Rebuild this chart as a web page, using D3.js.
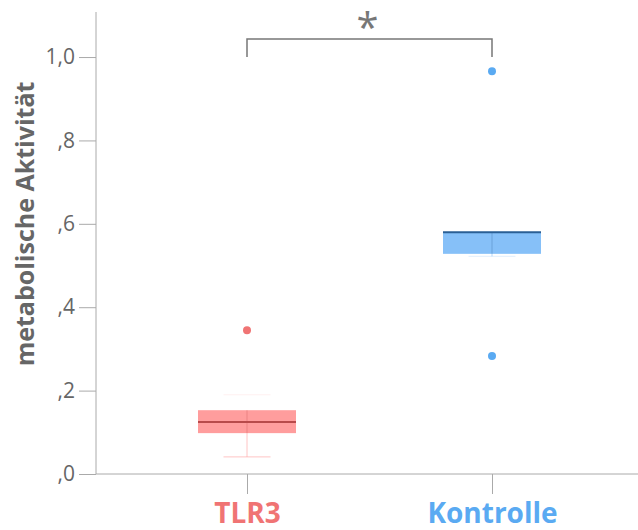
<!DOCTYPE html>
<html lang="de">
<head>
<meta charset="utf-8">
<title>metabolische Aktivität</title>
<script src="https://cdnjs.cloudflare.com/ajax/libs/d3/7.8.5/d3.min.js"></script>
<style>
	body { margin: 0; background: #fff; }
	svg text { font-family: "Open Sans", sans-serif; }
</style>
</head>
<body>
<svg id="chart" width="638" height="530"></svg>
<script>
// data
var groups = ['TLR3', 'Kontrolle'];
var groupColors = ['#f07474', '#5aaaf2'];
var boxFill = ['#ff9d9d', '#86c0f8'];
var medianColors = ['#b84a4a', '#2a5f95'];
var q1 = [0.098, 0.528];
var median = [0.125, 0.580];
var q3 = [0.153, 0.580];
var whiskerLow = [0.041, 0.522];
var whiskerHigh = [0.190, 0.580];
var outliers = [[0.345], [0.966, 0.283]];
var yTicks = [0, 0.2, 0.4, 0.6, 0.8, 1.0];
var yTickLabels = [',0', ',2', ',4', ',6', ',8', '1,0'];

var svg = d3.select('#chart');
var plotLeft = 96, plotRight = 638, plotTop = 12, plotBottom = 474;

var y = d3.scaleLinear().domain([0, 1.108]).range([plotBottom, plotTop]);
var x = d3.scalePoint().domain(groups).range([247, 492]);
var boxW = 98, capW = 47;

// y axis
var yAxis = svg.append('g').attr('transform', 'translate(' + plotLeft + ',0)')
	.call(d3.axisLeft(y).tickValues(yTicks).tickSize(17).tickPadding(4)
		.tickFormat(function(d, i) { return yTickLabels[i]; }));
yAxis.select('.domain').attr('stroke', '#aaa').attr('d', 'M0,' + plotTop + 'V' + plotBottom);
yAxis.selectAll('.tick line').attr('stroke', '#aaa');
yAxis.selectAll('.tick text').attr('fill', '#666').style('font-size', '21px');

// x axis
var xAxis = svg.append('g').attr('transform', 'translate(0,' + plotBottom + ')')
	.call(d3.axisBottom(x).tickSize(20).tickPadding(9));
xAxis.select('.domain').attr('stroke', '#aaa').attr('d', 'M' + plotLeft + ',0H' + plotRight);
xAxis.selectAll('.tick line').attr('stroke', '#aaa');
xAxis.selectAll('.tick text')
	.attr('fill', function(d, i) { return groupColors[i]; })
	.style('font-size', '28px').style('font-weight', 'bold');

// y label
svg.append('text')
	.attr('transform', 'translate(34,224) rotate(-90)')
	.attr('text-anchor', 'middle')
	.attr('fill', '#666')
	.style('font-size', '25px').style('font-weight', 'bold')
	.text('metabolische Aktivität');

// boxes
groups.forEach(function(g, i) {
	var cx = x(g);
	var gg = svg.append('g');
	gg.append('line').attr('x1', cx).attr('x2', cx)
		.attr('y1', y(whiskerLow[i])).attr('y2', y(q1[i]))
		.attr('stroke', boxFill[i]).attr('stroke-opacity', 0.6);
	gg.append('line').attr('x1', cx - capW / 2).attr('x2', cx + capW / 2)
		.attr('y1', y(whiskerLow[i])).attr('y2', y(whiskerLow[i]))
		.attr('stroke', boxFill[i]).attr('stroke-opacity', i === 0 ? 0.6 : 0.25);
	// upper whisker is barely visible in the original
	gg.append('line').attr('x1', cx - capW / 2).attr('x2', cx + capW / 2)
		.attr('y1', y(whiskerHigh[i])).attr('y2', y(whiskerHigh[i]))
		.attr('stroke', boxFill[i]).attr('stroke-opacity', 0.15);
	gg.append('rect').attr('x', cx - boxW / 2).attr('width', boxW)
		.attr('y', y(q3[i])).attr('height', y(q1[i]) - y(q3[i]))
		.attr('fill', boxFill[i]);
	gg.append('line').attr('x1', cx).attr('x2', cx)
		.attr('y1', y(q3[i])).attr('y2', y(q1[i]))
		.attr('stroke', medianColors[i]).attr('stroke-opacity', 0.3);
	gg.append('line').attr('x1', cx - boxW / 2).attr('x2', cx + boxW / 2)
		.attr('y1', y(median[i])).attr('y2', y(median[i]))
		.attr('stroke', medianColors[i]).attr('stroke-width', 2);
	gg.selectAll('circle').data(outliers[i]).enter().append('circle')
		.attr('cx', cx).attr('cy', function(d) { return y(d); })
		.attr('r', 4).attr('fill', groupColors[i]);
});

// significance bracket
var by = 39;
svg.append('path')
	.attr('d', 'M' + x('TLR3') + ',57V' + by + 'H' + x('Kontrolle') + 'V57')
	.attr('fill', 'none').attr('stroke', '#777').attr('stroke-width', 1.5);
svg.append('text')
	.attr('x', (x('TLR3') + x('Kontrolle')) / 2 - 2).attr('y', 42)
	.attr('text-anchor', 'middle').attr('fill', '#777')
	.style('font-size', '40px')
	.text('*');
</script>
</body>
</html>
